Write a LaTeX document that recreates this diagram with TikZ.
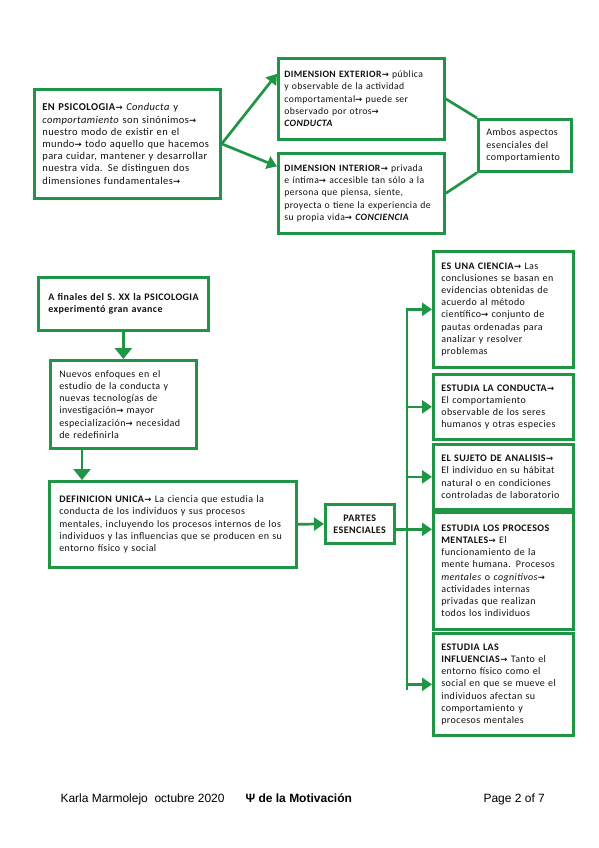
\documentclass[tikz,border=0pt]{standalone}
\usepackage{fontspec}
\setmainfont{Carlito}[LetterSpace=4]
\newfontfamily\pief{Liberation Sans}
\newfontfamily\dejavu{DejaVu Sans}
\usepackage{tikz}
\usetikzlibrary{calc,arrows.meta}
\definecolor{verde}{HTML}{1E9646}
\definecolor{tinta}{HTML}{111111}
\newcommand{\flecha}{{\dejavu\bfseries\fontsize{8.5}{8}\selectfont →}}
\tikzset{
  caja/.style={draw=verde, line width=2.7pt, fill=white, anchor=north west, align=left,
    inner xsep=8pt, inner ysep=3pt, text=tinta, font=\fontsize{10}{12.2}\selectfont},
  flech/.style={draw=verde, line width=2.7pt, -{Triangle[width=13pt,length=10pt]}},
  flechg/.style={draw=verde, line width=2.7pt, -{Triangle[width=17pt,length=11pt]}},
  lin/.style={draw=verde, line width=2.7pt},
  pie/.style={anchor=base west, text=black, font=\pief\fontsize{12}{13}\selectfont},
}
\begin{document}
\begin{tikzpicture}[x=1pt,y=-1pt]
  \useasboundingbox[fill=white] (0,0) rectangle (599,848);
  % parte superior
  \node[caja, text width=170pt, minimum height=109pt, font=\fontsize{10.5}{12.2}\selectfont] (psico) at (33,88)
    {\textbf{EN PSICOLOGIA}\flecha{} \textit{Conducta} y\\
     \textit{comportamiento} son sinónimos\flecha\\
     nuestro modo de existir en el\\
     mundo\flecha{} todo aquello que hacemos\\
     para cuidar, mantener y desarrollar\\
     nuestra vida. Se distinguen dos\\
     dimensiones fundamentales\flecha};
  \node[caja, text width=154pt, minimum height=81pt, inner xsep=6pt, font=\fontsize{9.7}{12.2}\selectfont] (ext) at (277,57)
    {\textbf{DIMENSION EXTERIOR}\flecha{} pública\\
     y observable de la actividad\\
     comportamental\flecha{} puede ser\\
     observado por otros\flecha\\
     \textbf{\textit{CONDUCTA}}};
  \node[caja, text width=154pt, minimum height=80pt, inner xsep=6pt, font=\fontsize{9.7}{12.2}\selectfont] (int) at (277,152)
    {\textbf{DIMENSION INTERIOR}\flecha{} privada\\
     e íntima\flecha{} accesible tan sólo a la\\
     persona que piensa, siente,\\
     proyecta o tiene la experiencia de\\
     su propia vida\flecha{} \textbf{\textit{CONCIENCIA}}};
  \node[caja, text width=77pt, minimum height=52pt] (ambos) at (477,118)
    {Ambos aspectos\\ esenciales del\\ comportamiento};
  \draw[flech] (psico.east) -- ([yshift=25pt]ext.west);
  \draw[flech] (psico.east) -- ([yshift=27pt]int.west);
  \draw[lin] (ext.east) -- (ambos.north west);
  \draw[lin] (int.east) -- (ambos.south west);
  % parte inferior
  \node[caja, text width=150pt, minimum height=53pt, inner xsep=10pt] (finales) at (37,276)
    {\textbf{A finales del S. XX la PSICOLOGIA}\\ \textbf{experimentó gran avance}};
  \node[caja, text width=128pt, minimum height=88pt, inner xsep=9pt] (nuevos) at (49,359)
    {Nuevos enfoques en el\\
     estudio de la conducta y\\
     nuevas tecnologías de\\
     investigación\flecha{} mayor\\
     especialización\flecha{} necesidad\\
     de redefinirla};
  \node[caja, text width=227pt, minimum height=86pt, inner xsep=10pt] (defin) at (48,480)
    {\textbf{DEFINICION UNICA}\flecha{} La ciencia que estudia la\\
     conducta de los individuos y sus procesos\\
     mentales, incluyendo los procesos internos de los\\
     individuos y las influencias que se producen en su\\
     entorno físico y social};
  \node[caja, align=center, text width=55pt, minimum height=39pt, inner xsep=7pt] (partes) at (324,503)
    {\textbf{PARTES}\\ \textbf{ESENCIALES}};
  \node[caja, text width=124pt, minimum height=116pt] (ciencia) at (432,250)
    {\textbf{ES UNA CIENCIA}\flecha{} Las\\
     conclusiones se basan en\\
     evidencias obtenidas de\\
     acuerdo al método\\
     científico\flecha{} conjunto de\\
     pautas ordenadas para\\
     analizar y resolver\\
     problemas};
  \node[caja, text width=124pt, minimum height=65pt] (conducta) at (432,373)
    {\textbf{ESTUDIA LA CONDUCTA}\flecha\\
     El comportamiento\\
     observable de los seres\\
     humanos y otras especies};
  \node[caja, text width=124pt, minimum height=65pt] (sujeto) at (432,443)
    {\textbf{EL SUJETO DE ANALISIS}\flecha\\
     El individuo en su hábitat\\
     natural o en condiciones\\
     controladas de laboratorio};
  \node[caja, text width=124pt, minimum height=117pt] (procesos) at (432,511)
    {\textbf{ESTUDIA LOS PROCESOS}\\
     \textbf{MENTALES}\flecha{} El\\
     funcionamiento de la\\
     mente humana. Procesos\\
     \textit{mentales} o \textit{cognitivos}\flecha\\
     actividades internas\\
     privadas que realizan\\
     todos los individuos};
  \node[caja, text width=124pt, minimum height=102pt] (influ) at (432,632)
    {\textbf{ESTUDIA LAS}\\
     \textbf{INFLUENCIAS}\flecha{} Tanto el\\
     entorno físico como el\\
     social en que se mueve el\\
     individuos afectan su\\
     comportamiento y\\
     procesos mentales};
  \coordinate (bus) at (407,0);
  \draw[flechg] (finales.south) -- (finales.south |- nuevos.north);
  \draw[flechg] ([xshift=33pt]nuevos.south west) -- ([xshift=33pt]nuevos.south west |- defin.north);
  \draw[flech] (defin.east) -- (partes.west);
  \draw[lin] ([yshift=1pt]ciencia.west -| bus) -- ([yshift=-6pt]influ.west -| bus);
  \draw[lin] ([yshift=-5.5pt]partes.east) -- ([yshift=-5.5pt]partes.east -| bus);
  \foreach \n in {ciencia,conducta,sujeto,influ}
    \draw[flech] (\n.west -| bus) -- (\n.west);
  \draw[flech] ([yshift=41.5pt]procesos.west -| bus) -- ([yshift=41.5pt]procesos.west);
  % pie de pagina
  \node[pie] (autor) at (57,802) {Karla Marmolejo\ \ octubre 2020};
  \node[pie, font=\pief\bfseries\fontsize{12}{13}\selectfont] (titulo) at (242,802) {Ψ de la Motivación};
  \node[pie] (pagina) at (480,802) {Page 2 of 7};
\end{tikzpicture}
\end{document}
